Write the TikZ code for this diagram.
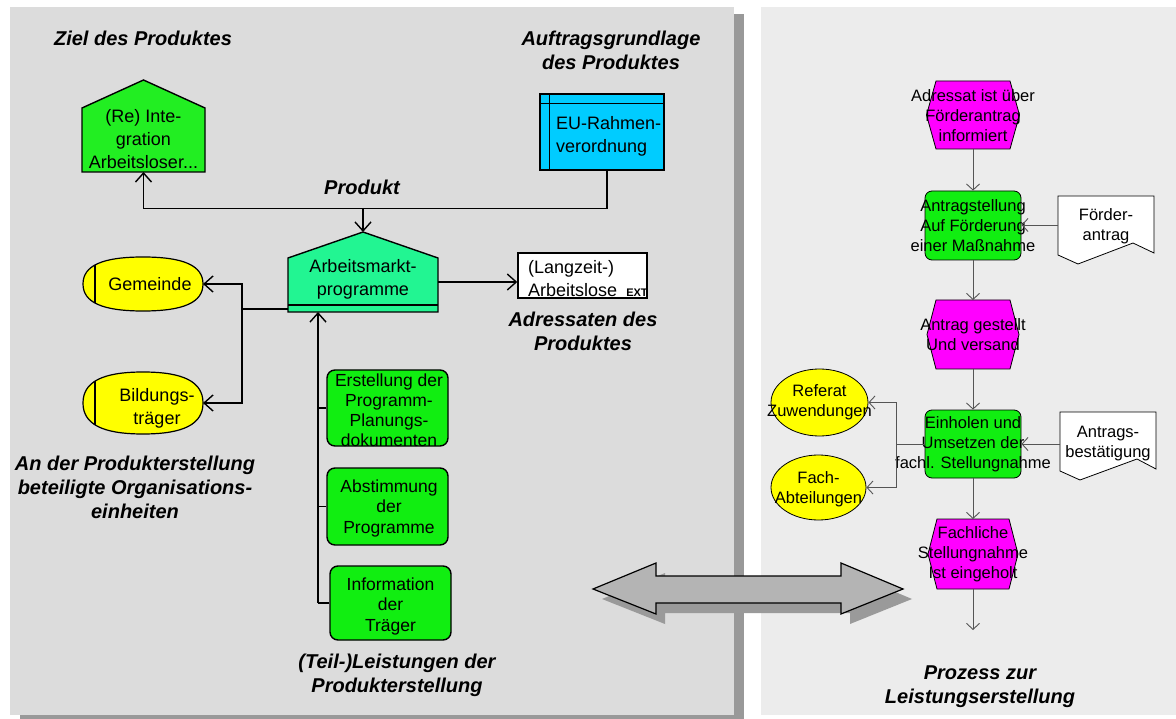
\documentclass[tikz,border=0pt]{standalone}
\usepackage{fontspec}
\setmainfont{Liberation Sans}
\usetikzlibrary{arrows.meta,shapes.geometric,calc}
\definecolor{panelL}{HTML}{DCDCDC}
\definecolor{panelR}{HTML}{ECECEC}
\definecolor{shadowc}{HTML}{999999}
\definecolor{goalc}{HTML}{22EE22}
\definecolor{ampc}{HTML}{22F592}
\definecolor{euc}{HTML}{00CCFF}
\definecolor{yellowc}{HTML}{FFFF00}
\definecolor{greenc}{HTML}{11EE11}
\definecolor{magc}{HTML}{FF00FF}
\definecolor{arrc}{HTML}{B4B4B4}
\definecolor{arrsh}{HTML}{9A9A9A}
\definecolor{rline}{HTML}{555555}
\newcommand{\superell}[4]{% cx cy a b
  (#1+#3,#2) .. controls (#1+#3,#2+0.68*#4) and (#1+0.68*#3,#2+#4) .. (#1,#2+#4)
  .. controls (#1-0.68*#3,#2+#4) and (#1-#3,#2+0.68*#4) .. (#1-#3,#2)
  .. controls (#1-#3,#2-0.68*#4) and (#1-0.68*#3,#2-#4) .. (#1,#2-#4)
  .. controls (#1+0.68*#3,#2-#4) and (#1+#3,#2-0.68*#4) .. (#1+#3,#2) -- cycle}
\begin{document}
\begin{tikzpicture}[x=1pt,y=-1pt,
  lbl/.style={font=\fontsize{20}{24}\selectfont\bfseries\itshape, align=center, inner sep=0},
  txt/.style={font=\fontsize{18}{23}\selectfont, align=center, inner sep=0},
  rtxt/.style={font=\fontsize{16.5}{20}\selectfont, align=center, inner sep=0},
  ghost/.style={inner sep=0, outer sep=0, draw=none},
  shp/.style={draw=black, line width=1.4pt},
  rshp/.style={draw=black, line width=0.8pt},
  conn/.style={line width=1.4pt, -{Straight Barb[length=9pt,width=16pt]}},
  plain/.style={line width=1.4pt},
  rconn/.style={draw=rline, line width=0.9pt, -{Straight Barb[length=6pt,width=13pt]}},
  rell/.style={ellipse, draw=black, fill=yellowc, line width=0.8pt, inner sep=0},
  task/.style={draw=black, fill=greenc, rounded corners=8pt, line width=1.4pt, minimum width=121, inner sep=0},
  rbox/.style={draw=black, fill=greenc, rounded corners=7pt, line width=0.8pt, minimum width=96, inner sep=0},
]
\useasboundingbox (0,0) rectangle (1176,719);
\fill[white] (0,0) rectangle (1176,719);
% panels
\fill[shadowc] (20,14) rectangle (744,719);
\fill[panelL] (10,7) rectangle (734,715);
\fill[panelR] (761,7) rectangle (1176,715);

% ---------- left panel labels
\node[lbl] (l1) at (143,38) {Ziel des Produktes};
\node[lbl] (l2) at (611,50) {Auftragsgrundlage\\des Produktes};
\node[lbl] (l3) at (362,187) {Produkt};
\node[lbl] (l4) at (583,331) {Adressaten des\\Produktes};
\node[lbl] (l5) at (135,487) {An der Produkterstellung\\beteiligte Organisations-\\einheiten};
\node[lbl] (l6) at (397,675) {(Teil-)Leistungen der\\Produkterstellung};

% ---------- goal house
\node[ghost, minimum width=123, minimum height=64] (goal) at (143.5,140) {};
\filldraw[shp, fill=goalc] (goal.south west) -- (goal.north west) -- (143.5,80) -- (goal.north east) -- (goal.south east) -- cycle;
\node[txt] (goalt) at (143.5,139) {(Re) Inte-\\gration\\Arbeitsloser...};

% ---------- EU box
\node[shp, fill=euc, minimum width=124, minimum height=76, inner sep=0] (eu) at (602,132) {};
\draw[plain] ([xshift=10pt]eu.north west) -- ([xshift=10pt]eu.south west);
\draw[plain] ([yshift=-10pt]eu.north west) -- ([yshift=-10pt]eu.north east);
\node[txt, align=left, anchor=west] (eut) at (556,136) {EU-Rahmen-\\verordnung};

% ---------- Arbeitsmarktprogramme house
\node[ghost, minimum width=150, minimum height=54] (amp) at (363,285) {};
\coordinate (ampapex) at (363,232);
\filldraw[shp, fill=ampc] (amp.south west) -- (amp.north west) -- (ampapex) -- (amp.north east) -- (amp.south east) -- cycle;
\draw[plain] ([yshift=7pt]amp.south west) -- ([yshift=7pt]amp.south east);
\node[txt] (ampt) at (363,279.5) {Arbeitsmarkt-\\programme};

% ---------- external box
\node[draw=black, fill=white, line width=1.4pt, minimum width=129, minimum height=45, inner sep=0] (ext) at (582.5,275.5) {};
\node[txt, align=left, anchor=west] (extt) at (528,279) {(Langzeit-)\\Arbeitslose};
\node[font=\fontsize{11}{11}\selectfont\bfseries, inner sep=0] (extx) at (637,293) {EXT};

% ---------- ellipses left
\node[ghost, ellipse, minimum width=120, minimum height=54] (gem) at (143,284) {};
\filldraw[fill=yellowc, draw=black, line width=1.2pt] \superell{143}{284}{60}{27};
\begin{scope}
\clip \superell{143}{284}{60}{27};
\draw[plain] (95,250) -- (95,320);
\end{scope}
\node[txt] (gemt) at (150,284) {Gemeinde};
\node[ghost, ellipse, minimum width=120, minimum height=62] (bild) at (143,403) {};
\filldraw[fill=yellowc, draw=black, line width=1.2pt] \superell{143}{403}{60}{31};
\begin{scope}
\clip \superell{143}{403}{60}{31};
\draw[plain] (95,360) -- (95,450);
\end{scope}
\node[txt] (bildt) at (157,408) {Bildungs-\\träger};

% ---------- task boxes
\node[task, minimum height=76] (t1) at (387.5,408) {};
\node[txt, font=\fontsize{17.5}{20}\selectfont] (t1t) at (389,410) {Erstellung der\\Programm-\\Planungs-\\dokumenten};
\node[task, minimum height=77] (t2) at (387.5,506.5) {};
\node[txt, font=\fontsize{17.5}{20.5}\selectfont] (t2t) at (389,508) {Abstimmung\\der\\Programme};
\node[task, minimum height=74] (t3) at (390.5,603) {};
\node[txt, font=\fontsize{17.5}{20.5}\selectfont] (t3t) at (390.5,606) {Information\\der\\Träger};

% ---------- left connectors
\draw[conn] ([xshift=5pt]eu.south) -- ++(0,38) -| (goal.south);
\coordinate (pj) at (363,208);
\draw[conn] (pj) -- (ampapex);
\draw[conn] ([yshift=3pt]amp.east) -- ([yshift=-6.5pt]ext.west);
\coordinate (orgbus) at (242,309);
\draw[plain] ([yshift=-24pt]amp.west) -- (orgbus);
\draw[conn] (orgbus) |- (gem.east);
\draw[conn] (orgbus) |- (bild.east);
\coordinate (tbus) at (318,603);
\draw[plain] (t1.west) -- (t1.west -| tbus);
\draw[plain] (t2.west) -- (t2.west -| tbus);
\draw[plain] (t3.west) -- (tbus);
\draw[conn] (tbus) -- (tbus |- amp.south);

% ---------- double arrow
\fill[arrsh, shift={(9,10)}] (593,589) -- (656,563) -- (656,576) -- (841,576) -- (841,563) -- (903,589) -- (841,614) -- (841,603) -- (656,603) -- (656,614) -- cycle;
\filldraw[fill=arrc, draw=black, line width=1.2pt] (593,589) -- (656,563) -- (656,576) -- (841,576) -- (841,563) -- (903,589) -- (841,614) -- (841,603) -- (656,603) -- (656,614) -- cycle;

% ---------- right panel
\node[ghost, minimum width=93, minimum height=68] (h1) at (973,115) {};
\filldraw[rshp, fill=magc] (936,81) -- (1010,81) -- (1019.5,115) -- (1010,149) -- (936,149) -- (926.5,115) -- cycle;
\node[rtxt] (h1t) at (973,116) {Adressat ist über\\Förderantrag\\informiert};

\node[rbox, minimum height=69] (b1) at (973,225.5) {};
\node[rtxt] (b1t) at (973,225.5) {Antragstellung\\Auf Förderung\\einer Maßnahme};

\node[ghost, minimum width=96, minimum height=58] (d1) at (1106,225) {};
\filldraw[rshp, fill=white] (1058,196) -- (1154,196) -- (1154,253) -- (1133,243) -- (1078,264) -- (1058,255) -- cycle;
\node[rtxt] (d1t) at (1106,226) {Förder-\\antrag};

\node[ghost, minimum width=91, minimum height=69] (h2) at (973,334.5) {};
\filldraw[rshp, fill=magc] (936,300) -- (1010,300) -- (1019,334.5) -- (1010,369) -- (936,369) -- (927,334.5) -- cycle;
\node[rtxt] (h2t) at (973,334.5) {Antrag gestellt\\Und versand};

\node[rbox, minimum height=68] (b2) at (973,444) {};
\node[rtxt] (b2t) at (973,444) {Einholen und\\Umsetzen der\\fachl. Stellungnahme};

\node[ghost, minimum width=96, minimum height=58] (d2) at (1108,441) {};
\filldraw[rshp, fill=white] (1060,412) -- (1156,412) -- (1156,469) -- (1137,459) -- (1080,480) -- (1060,471) -- cycle;
\node[rtxt] (d2t) at (1108,443.5) {Antrags-\\bestätigung};

\node[rell, minimum width=97, minimum height=67] (ref) at (819.5,402.5) {};
\node[rtxt] (reft) at (819.5,402.5) {Referat\\Zuwendungen};
\node[rell, minimum width=95, minimum height=65] (fach) at (818.5,487.5) {};
\node[rtxt] (facht) at (818.5,489) {Fach-\\Abteilungen};

\node[ghost, minimum width=89, minimum height=70] (h3) at (973,554) {};
\filldraw[rshp, fill=magc] (937,519) -- (1009,519) -- (1018,554) -- (1009,589) -- (937,589) -- (928,554) -- cycle;
\node[rtxt] (h3t) at (973,554) {Fachliche\\Stellungnahme\\Ist eingeholt};

\coordinate (endp) at (973,630);
\node[lbl] (l7) at (980,686.5) {Prozess zur\\Leistungserstellung};

% right connectors
\draw[rconn] (h1.south) -- (b1.north);
\draw[rconn] (b1.south) -- (h2.north);
\draw[rconn] (h2.south) -- (b2.north);
\draw[rconn] (b2.south) -- (h3.north);
\draw[rconn] (h3.south) -- (endp);
\draw[rconn] (d1.west) -- (d1.west -| b1.east);
\draw[rconn] (d2.west |- b2.east) -- (b2.east);
\coordinate (rbus) at (896,444);
\draw[draw=rline, line width=0.9pt] (b2.west) -- (rbus);
\draw[rconn] (rbus) |- (ref.east);
\draw[rconn] (rbus) |- (fach.east);
\end{tikzpicture}
\end{document}
